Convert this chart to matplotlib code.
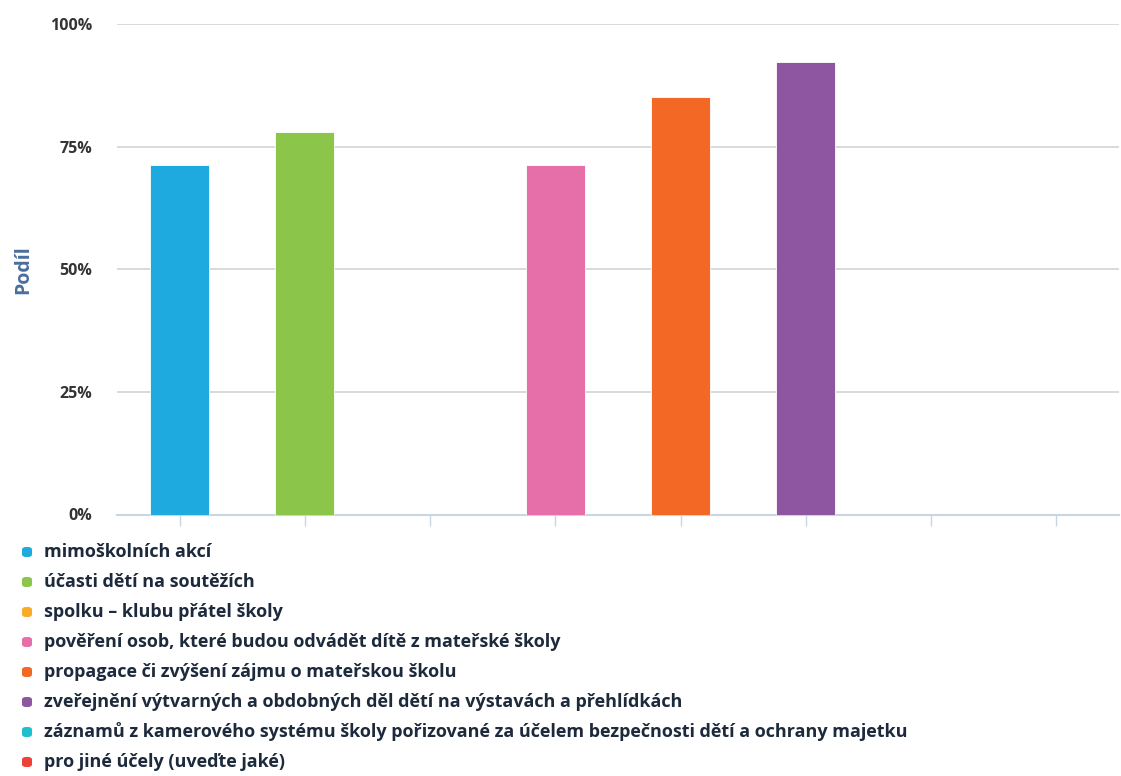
import matplotlib
matplotlib.use("Agg")
import matplotlib.pyplot as plt
from matplotlib.patches import FancyBboxPatch
from matplotlib.ticker import FuncFormatter

plt.rcParams['font.family'] = ['Open Sans', 'DejaVu Sans']

# data
labels = [
    "mimoškolních akcí",
    "účasti dětí na soutěžích",
    "spolku – klubu přátel školy",
    "pověření osob, které budou odvádět dítě z mateřské školy",
    "propagace či zvýšení zájmu o mateřskou školu",
    "zveřejnění výtvarných a obdobných děl dětí na výstavách a přehlídkách",
    "záznamů z kamerového systému školy pořizované za účelem bezpečnosti dětí a ochrany majetku",
    "pro jiné účely (uveďte jaké)",
]
values = [71.2, 77.9, 0, 71.2, 85.1, 92.3, 0, 0]
colors = ["#1ea9df", "#8bc54a", "#fbab27", "#e66fa9", "#f26824", "#8e56a0", "#1fbfcf", "#ee4036"]
yticks = [0, 25, 50, 75, 100]

W, H = 1121, 776
fig = plt.figure(figsize=(W / 100, H / 100), dpi=100)
ax = fig.add_axes([117 / W, 1 - 514.5 / H, (1119 - 117) / W, (514.5 - 24) / H])

x = list(range(len(values)))
ax.bar(x, values, width=0.47, color=colors, edgecolor="white", linewidth=0.6, zorder=3)

ax.set_xlim(-0.5, len(values) - 0.5)
ax.set_ylim(0, 100)
ax.set_yticks(yticks)
ax.yaxis.set_major_formatter(FuncFormatter(lambda v, p: f"{v:.0f}%"))
ax.set_xticks(x)
ax.set_xticklabels([])
ax.grid(axis="y", color="#d3d3d3", linewidth=1.2, zorder=0)
for s in ["top", "right", "left"]:
    ax.spines[s].set_visible(False)
ax.spines["bottom"].set_color("#c8d5e3")
ax.spines["bottom"].set_linewidth(1.5)
ax.tick_params(axis="x", length=8, color="#c8d5e3", width=1)
ax.tick_params(axis="y", length=0, pad=18, labelsize=11.5, labelcolor="#333333")
for t in ax.get_yticklabels():
    t.set_fontweight("bold")

ax.set_ylabel("Podíl", fontsize=14, fontweight="bold", color="#4a6e9c", labelpad=12)

# legend rows below the plot
for i, (lab, c) in enumerate(zip(labels, colors)):
    yc = 552 + i * 30
    box = FancyBboxPatch((22 / W, 1 - (yc + 5) / H), 10 / W, 10 / H,
                         boxstyle="round,pad=0,rounding_size=0.0035",
                         transform=fig.transFigure, facecolor=c, edgecolor="none")
    fig.add_artist(box)
    fig.text(44 / W, 1 - yc / H, lab, fontsize=12.95, fontweight="bold",
             color="#1c2a3c", va="center", ha="left")

fig.savefig("out.png", dpi=100)
